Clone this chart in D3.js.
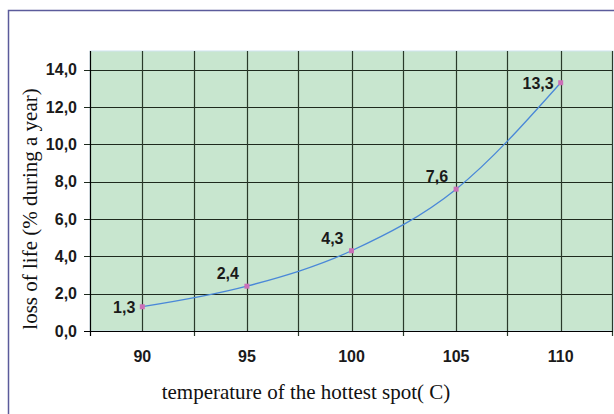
<!DOCTYPE html>
<html>
<head>
<meta charset="utf-8">
<script src="https://cdn.jsdelivr.net/npm/d3@7"></script>
<style>
  body { margin: 0; background: #fff; }
  svg { display: block; }
</style>
</head>
<body>
<div id="chart"></div>
<script>
var temps = ["90", "95", "100", "105", "110"];
var lossValues = [1.3, 2.4, 4.3, 7.6, 13.3];
var yTicks = [0, 2, 4, 6, 8, 10, 12, 14];

var W = 614, H = 414;
var margin = {top: 51, right: 1, bottom: 83, left: 90};
var labelFont = "Liberation Sans, Arial, sans-serif";

var svg = d3.select("#chart").append("svg")
    .attr("width", W)
    .attr("height", H);

// outer frame
svg.append("rect")
    .attr("x", 8.5).attr("y", 10.5)
    .attr("width", W).attr("height", H)
    .style("fill", "none")
    .style("stroke", "#5b5b9b")
    .style("stroke-width", 1.5);

var x = d3.scaleBand()
    .domain(temps)
    .range([margin.left, W - margin.right]);

var y = d3.scaleLinear()
    .domain([0, 15])
    .range([H - margin.bottom, margin.top]);

// plot background
svg.append("rect")
    .attr("x", margin.left).attr("y", margin.top)
    .attr("width", W - margin.right - margin.left)
    .attr("height", y(0) - margin.top)
    .style("fill", "#c8e6cf")
    .style("stroke", "#cfe3ef")
    .style("stroke-width", 1);

// horizontal gridlines
svg.selectAll(".hgrid")
    .data(yTicks.filter(function(d) { return d > 0; }))
    .enter().append("line")
    .attr("x1", margin.left - 6)
    .attr("x2", W - margin.right)
    .attr("y1", function(d) { return Math.round(y(d)) + 0.5; })
    .attr("y2", function(d) { return Math.round(y(d)) + 0.5; })
    .style("stroke", "#1e2a1e")
    .style("stroke-width", 1.2);

// vertical gridlines at category centres and boundaries
var bounds = temps.map(function(d) { return x(d); }).concat([x.range()[1]]);
svg.selectAll(".vgrid")
    .data(temps)
    .enter().append("line")
    .attr("x1", function(d) { return Math.round(x(d) + x.bandwidth() / 2) + 0.5; })
    .attr("x2", function(d) { return Math.round(x(d) + x.bandwidth() / 2) + 0.5; })
    .attr("y1", margin.top)
    .attr("y2", y(0))
    .style("stroke", "#2a3a2a")
    .style("stroke-width", 1.2);

svg.selectAll(".bgrid")
    .data(bounds.slice(1))
    .enter().append("line")
    .attr("x1", function(d) { return Math.round(d) - 0.5; })
    .attr("x2", function(d) { return Math.round(d) - 0.5; })
    .attr("y1", margin.top)
    .attr("y2", y(0) + 5)
    .style("stroke", "#2a3a2a")
    .style("stroke-width", 1.2);

// axes
var y0 = Math.round(y(0)) + 0.5;
svg.append("line")
    .attr("x1", margin.left - 6).attr("x2", W - margin.right)
    .attr("y1", y0).attr("y2", y0)
    .style("stroke", "#000").style("stroke-width", 1.2);
svg.append("line")
    .attr("x1", margin.left + 0.5).attr("x2", margin.left + 0.5)
    .attr("y1", margin.top).attr("y2", y(0) + 5)
    .style("stroke", "#000").style("stroke-width", 1.2);

svg.selectAll(".ylab")
    .data(yTicks)
    .enter().append("text")
    .attr("x", margin.left - 13)
    .attr("y", function(d) { return y(d) + 5.5; })
    .attr("text-anchor", "end")
    .style("font-family", labelFont)
    .style("font-weight", "bold")
    .style("font-size", "16px")
    .style("fill", "#1a1a1a")
    .text(function(d) { return d.toFixed(1).replace(".", ","); });

svg.selectAll(".xlab")
    .data(temps)
    .enter().append("text")
    .attr("x", function(d) { return x(d) + x.bandwidth() / 2; })
    .attr("y", 362)
    .attr("text-anchor", "middle")
    .style("font-family", labelFont)
    .style("font-weight", "bold")
    .style("font-size", "16px")
    .style("fill", "#1a1a1a")
    .text(function(d) { return d; });

// axis titles
svg.append("text")
    .attr("x", 306).attr("y", 399)
    .attr("text-anchor", "middle")
    .style("font-family", "Liberation Serif, Times New Roman, serif")
    .style("font-size", "21px")
    .style("fill", "#111")
    .text("temperature of the hottest spot( C)");

svg.append("text")
    .attr("transform", "translate(37,209) rotate(-90)")
    .attr("text-anchor", "middle")
    .style("font-family", "Liberation Serif, Times New Roman, serif")
    .style("font-size", "21px")
    .style("fill", "#111")
    .text("loss of life (% during a year)");

// data line
var pts = temps.map(function(t, i) { return {t: t, v: lossValues[i]}; });
var line = d3.line()
    .x(function(d) { return x(d.t) + x.bandwidth() / 2; })
    .y(function(d) { return y(d.v); })
    .curve(d3.curveMonotoneX);

svg.append("path")
    .datum(pts)
    .attr("d", line)
    .style("fill", "none")
    .style("stroke", "#4a88d8")
    .style("stroke-width", 1.3);

svg.selectAll(".pt")
    .data(pts)
    .enter().append("rect")
    .attr("x", function(d) { return x(d.t) + x.bandwidth() / 2 - 2.5; })
    .attr("y", function(d) { return y(d.v) - 2.5; })
    .attr("width", 5).attr("height", 5)
    .style("fill", "#cc6fb8");

// value labels
svg.selectAll(".val")
    .data(pts)
    .enter().append("text")
    .attr("x", function(d, i) { return x(d.t) + x.bandwidth() / 2 - (i == 0 || i == 4 ? 7 : 8); })
    .attr("y", function(d, i) { return i == 0 || i == 4 ? y(d.v) + 6.5 : y(d.v) - 7; })
    .attr("text-anchor", "end")
    .style("font-family", labelFont)
    .style("font-weight", "bold")
    .style("font-size", "16px")
    .style("fill", "#1a1a1a")
    .text(function(d) { return d.v.toFixed(1).replace(".", ","); });
</script>
</body>
</html>
